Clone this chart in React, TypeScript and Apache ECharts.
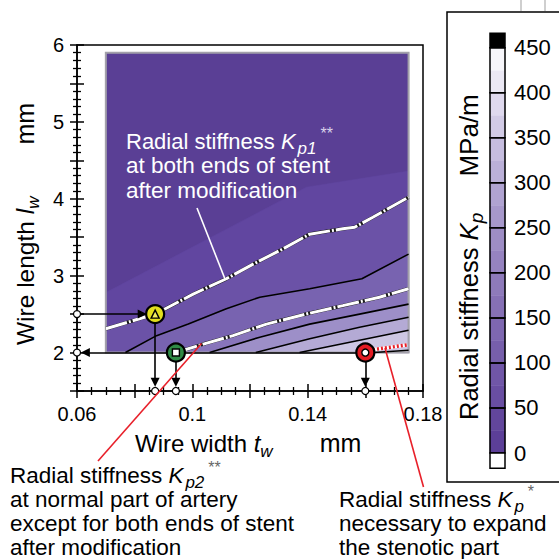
import React, { useEffect, useRef } from "react";
import * as echarts from "echarts";

const FONT = '"Liberation Sans", Arial, Helvetica, sans-serif';

// ---------- axes ----------
const xMin = 0.06;
const xMax = 0.18;
const xStep = 0.02;
const yMin = 1.5;
const yMax = 6;
const yStep = 0.5;
const xLabelValues = [0.06, 0.1, 0.14, 0.18];
const yLabelValues = [2, 3, 4, 5, 6];
const colorbarTicks = [0, 50, 100, 150, 200, 250, 300, 350, 400, 450];

// ---------- contour field (wire width tw [mm], wire length lw [mm]) ----------
const fieldX = [0.07, 0.175];
const fieldY = [2, 5.9];

// unlabeled shading boundary in the upper region
const boundaryUpper: number[][] = [[0.07, 2.78], [0.1395, 4.15], [0.175, 4.36]];
// Kp1** (white dash-dot)
const kp1Line: number[][] = [
  [0.07, 2.31], [0.0871, 2.5], [0.1003, 2.76], [0.1118, 2.96], [0.1211, 3.15],
  [0.1315, 3.35], [0.1407, 3.54], [0.1522, 3.61], [0.1563, 3.63], [0.1626, 3.76], [0.175, 4.02],
];
// black contour lines
const contourA: number[][] = [
  [0.0768, 2], [0.0876, 2.22], [0.0986, 2.37], [0.1118, 2.57], [0.1234, 2.72],
  [0.1407, 2.83], [0.1588, 2.96], [0.175, 3.28],
];
// Kp2** (white dash-dot)
const kp2Line: number[][] = [
  [0.0943, 2], [0.1038, 2.11], [0.1141, 2.22], [0.1257, 2.37], [0.1405, 2.51],
  [0.1522, 2.61], [0.1649, 2.72], [0.175, 2.83],
];
const contourB: number[][] = [[0.106, 2], [0.1234, 2.2], [0.1407, 2.37], [0.158, 2.5], [0.175, 2.63]];
const contourC: number[][] = [[0.122, 2], [0.1407, 2.18], [0.158, 2.33], [0.175, 2.46]];
const contourD: number[][] = [[0.1372, 2], [0.158, 2.16], [0.175, 2.29]];
const contourE: number[][] = [[0.163, 2], [0.175, 2.03]];
// Kp* (red dotted)
const kpStarLine: number[][] = [[0.1613, 2.03], [0.1745, 2.1]];

// shading: background + area under each boundary (increasing stiffness)
const fillBoundaries: (number[][] | null)[] = [null, boundaryUpper, kp1Line, contourA, kp2Line, contourB, contourC, contourD, contourE];
const fillColors = ["#5a3f95", "#6146a0", "#6b52a7", "#7863b0", "#8875bb", "#9d8fc8", "#b4aad5", "#cdc6e3", "#e4e0ef"];

// ---------- colorbar ----------
const bandEdges = [0, 25, 50, 75, 100, 125, 150, 175, 200, 225, 250, 275, 300, 325, 350, 375, 400, 425, 450];
const bandColors = [
  "#5c3f98", "#62469c", "#694ea2", "#7056a7", "#775fab", "#7e67b0", "#8670b5", "#8e7aba",
  "#9683c0", "#9e8dc5", "#a798cb", "#b0a3d1", "#bbb0d8", "#c6bddf", "#d2cbe6", "#dfd9ee",
  "#ebe8f4", "#f7f6fa",
];

// ---------- design points ----------
const pointKp1 = [0.0871, 2.5];
const pointKp2 = [0.0943, 2.0];
const pointKpStar = [0.16, 2.0];

type Seg = { t: string; s: number; i?: boolean; dy?: number; gap?: number; c?: string };

// One text element per line; sub/superscripts are rich-text tokens shifted by padding.
function run(segs: Seg[], x: number, baseline: number, color: string) {
  const S = segs[0].s;
  const rich: any = {};
  let text = "";
  segs.forEach((sg, k) => {
    const shift = (sg.dy || 0) + 0.35 * (S - sg.s);
    const pt = shift > 0 ? 2 * shift : 0;
    const pb = shift < 0 ? -2 * shift : 0;
    rich["s" + k] = {
      fontSize: sg.s,
      fontFamily: FONT,
      fontStyle: sg.i ? "italic" : "normal",
      fill: sg.c || color,
      color: sg.c || color,
      lineHeight: sg.s,
      padding: [pt, 0, pb, sg.gap || 0],
      verticalAlign: "middle",
    };
    text += `{s${k}|${sg.t}}`;
  });
  return {
    type: "text",
    x,
    y: baseline - 0.35 * S,
    z: 100,
    silent: true,
    style: {
      text,
      rich,
      fontSize: S,
      fontFamily: FONT,
      fill: color,
      align: "left",
      verticalAlign: "middle",
    },
  };
}

function vrun(segs: Seg[], baselineX: number, startY: number, color: string) {
  return {
    type: "group",
    x: baselineX,
    y: startY,
    rotation: Math.PI / 2,
    z: 100,
    children: [run(segs, 0, 0, color)],
  };
}

export default function App() {
  const ref = useRef<HTMLDivElement>(null);
  useEffect(() => {
    const chart = echarts.init(ref.current!, null, { renderer: "svg" });

    const tickStyle = { color: "#000", width: 1.5 };
    const xFormatter = (v: number) => {
      const hit = xLabelValues.find((l) => Math.abs(l - v) < 1e-6);
      return hit !== undefined ? String(hit) : "";
    };
    const yFormatter = (v: number) => {
      const hit = yLabelValues.find((l) => Math.abs(l - v) < 1e-6);
      return hit !== undefined ? String(hit) : "";
    };

    const makeX = (inside: boolean) => ({
      gridIndex: 0,
      type: "value",
      min: xMin,
      max: xMax,
      interval: xStep,
      position: "bottom",
      axisLine: { show: inside, onZero: false, lineStyle: tickStyle },
      axisTick: { show: true, inside, length: 7, lineStyle: tickStyle },
      minorTick: { show: true, splitNumber: 4, length: 4, lineStyle: { color: "#000", width: 1.3 } },
      axisLabel: { show: inside, formatter: xFormatter, fontSize: 20, color: "#000", fontFamily: FONT, margin: 13 },
      splitLine: { show: false },
      minorSplitLine: { show: false },
    });
    const makeY = (inside: boolean) => ({
      gridIndex: 0,
      type: "value",
      min: yMin,
      max: yMax,
      interval: yStep,
      position: "left",
      axisLine: { show: inside, onZero: false, lineStyle: tickStyle },
      axisTick: { show: true, inside, length: 7, lineStyle: tickStyle },
      minorTick: { show: true, splitNumber: 5, length: 4, lineStyle: { color: "#000", width: 1.3 } },
      axisLabel: { show: inside, formatter: yFormatter, fontSize: 20, color: "#000", fontFamily: FONT, margin: 13 },
      splitLine: { show: false },
      minorSplitLine: { show: false },
    });

    const contourLine = (data: number[][], color: string, width: number, type: any = "solid", z = 3) => ({
      type: "line",
      xAxisIndex: 0,
      yAxisIndex: 0,
      data,
      showSymbol: false,
      symbol: "none",
      z,
      silent: true,
      lineStyle: { color, width, type },
    });

    const arrow = (from: number[], to: number[]) => ({ coords: [from, to] });

    const option: any = {
      animation: false,
      backgroundColor: "#fff",
      grid: [
        { left: 77, top: 45, width: 346, height: 346, show: true, borderColor: "#000", borderWidth: 1.5, backgroundColor: "transparent" },
        { left: 490, top: 47.7, width: 15, height: 405.3 },
      ],
      xAxis: [
        makeX(true),
        makeX(false),
        { gridIndex: 1, type: "value", min: 0, max: 1, show: false },
      ],
      yAxis: [
        makeY(true),
        makeY(false),
        {
          gridIndex: 1,
          type: "value",
          min: colorbarTicks[0],
          max: colorbarTicks[colorbarTicks.length - 1],
          interval: 50,
          position: "right",
          axisLine: { show: false },
          axisTick: { show: false },
          splitLine: { show: false },
          axisLabel: { fontSize: 22, color: "#000", fontFamily: FONT, margin: 9 },
        },
      ],
      series: [
        // contour shading
        {
          type: "custom",
          xAxisIndex: 0,
          yAxisIndex: 0,
          z: 1,
          silent: true,
          data: fillBoundaries.map(() => [fieldX[0], fieldY[0]]),
          renderItem: (params: any, api: any) => {
            const line = fillBoundaries[params.dataIndex];
            let pts: number[][];
            if (!line) {
              pts = [[fieldX[0], fieldY[0]], [fieldX[1], fieldY[0]], [fieldX[1], fieldY[1]], [fieldX[0], fieldY[1]]];
            } else {
              pts = [...line, [fieldX[1], fieldY[0]], [line[0][0], fieldY[0]]];
            }
            return {
              type: "polygon",
              shape: { points: pts.map((p) => api.coord(p)) },
              style: { fill: fillColors[params.dataIndex], stroke: fillColors[params.dataIndex], lineWidth: 0.5 },
            };
          },
        },
        // field border
        {
          type: "custom",
          xAxisIndex: 0,
          yAxisIndex: 0,
          z: 2,
          silent: true,
          data: [[fieldX[0], fieldY[0]]],
          renderItem: (_p: any, api: any) => {
            const a = api.coord([fieldX[0], fieldY[1]]);
            const b = api.coord([fieldX[1], fieldY[0]]);
            return {
              type: "rect",
              shape: { x: a[0], y: a[1], width: b[0] - a[0], height: b[1] - a[1] },
              style: { fill: "none", stroke: "#a3a1aa", lineWidth: 2 },
            };
          },
        },
        contourLine(contourA, "#000", 1.6),
        contourLine(contourB, "#000", 1.6),
        contourLine(contourC, "#000", 1.6),
        contourLine(contourD, "#000", 1.6),
        contourLine(contourE, "#000", 1.6),
        contourLine(kp1Line, "#1a1a1a", 3.6, "solid", 4),
        contourLine(kp1Line, "#fff", 3, [22, 2, 2, 2], 5),
        contourLine(kp2Line, "#1a1a1a", 3.6, "solid", 4),
        contourLine(kp2Line, "#fff", 3, [22, 2, 2, 2], 5),
        contourLine(kpStarLine, "#fff", 3.5, "solid", 4),
        contourLine(kpStarLine, "#e8202a", 3.5, [2, 2], 5),
        // arrows
        {
          type: "lines",
          coordinateSystem: "cartesian2d",
          xAxisIndex: 0,
          yAxisIndex: 0,
          z: 6,
          silent: true,
          symbol: ["none", "triangle"],
          symbolSize: 9,
          lineStyle: { color: "#000", width: 1.6, opacity: 1 },
          data: [
            arrow(pointKpStar, [0.0629, 2]),
            arrow([0.06, 2.5], [0.0826, 2.5]),
            arrow(pointKp1, [pointKp1[0], 1.615]),
            arrow(pointKp2, [pointKp2[0], 1.615]),
            arrow(pointKpStar, [pointKpStar[0], 1.615]),
          ],
        },
        // small white circles on the axes
        {
          type: "scatter",
          xAxisIndex: 0,
          yAxisIndex: 0,
          z: 7,
          clip: false,
          silent: true,
          symbol: "circle",
          symbolSize: 7,
          itemStyle: { color: "#fff", borderColor: "#000", borderWidth: 1.2, opacity: 1 },
          data: [
            [xMin, pointKp1[1]],
            [xMin, pointKp2[1]],
            [pointKp1[0], yMin],
            [pointKp2[0], yMin],
            [pointKpStar[0], yMin],
          ],
        },
        // markers
        {
          type: "scatter", xAxisIndex: 0, yAxisIndex: 0, z: 8, silent: true, clip: false,
          symbol: "circle", symbolSize: 18,
          itemStyle: { color: "#e3df1d", borderColor: "#000", borderWidth: 2.2, opacity: 1 },
          data: [pointKp1],
        },
        {
          type: "scatter", xAxisIndex: 0, yAxisIndex: 0, z: 9, silent: true, clip: false,
          symbol: "triangle", symbolSize: 8,
          itemStyle: { color: "#f2ef60", borderColor: "#000", borderWidth: 1.4, opacity: 1 },
          data: [pointKp1],
        },
        {
          type: "scatter", xAxisIndex: 0, yAxisIndex: 0, z: 8, silent: true, clip: false,
          symbol: "circle", symbolSize: 18,
          itemStyle: { color: "#2f8a45", borderColor: "#000", borderWidth: 2.2, opacity: 1 },
          data: [pointKp2],
        },
        {
          type: "scatter", xAxisIndex: 0, yAxisIndex: 0, z: 9, silent: true, clip: false,
          symbol: "rect", symbolSize: 7,
          itemStyle: { color: "#fff", borderColor: "#000", borderWidth: 1.4, opacity: 1 },
          data: [pointKp2],
        },
        {
          type: "scatter", xAxisIndex: 0, yAxisIndex: 0, z: 8, silent: true, clip: false,
          symbol: "circle", symbolSize: 18,
          itemStyle: { color: "#e31b23", borderColor: "#000", borderWidth: 2.2, opacity: 1 },
          data: [pointKpStar],
        },
        {
          type: "scatter", xAxisIndex: 0, yAxisIndex: 0, z: 9, silent: true, clip: false,
          symbol: "circle", symbolSize: 7,
          itemStyle: { color: "#fff", borderColor: "#000", borderWidth: 1.4, opacity: 1 },
          data: [pointKpStar],
        },
        // colorbar bands
        {
          type: "custom",
          xAxisIndex: 2,
          yAxisIndex: 2,
          z: 2,
          clip: false,
          silent: true,
          data: bandColors.map((_, i) => [bandEdges[i], bandEdges[i + 1]]),
          renderItem: (params: any, api: any) => {
            const a = api.coord([0, api.value(1)]);
            const b = api.coord([1, api.value(0)]);
            return {
              type: "rect",
              shape: { x: a[0], y: a[1], width: b[0] - a[0], height: b[1] - a[1] },
              style: { fill: bandColors[params.dataIndex], stroke: bandColors[params.dataIndex], lineWidth: 0.5 },
            };
          },
        },
        // colorbar outlines (every 50) + under/over boxes
        {
          type: "custom",
          xAxisIndex: 2,
          yAxisIndex: 2,
          z: 3,
          clip: false,
          silent: true,
          data: [
            ...colorbarTicks.slice(0, -1).map((v, i) => [v, colorbarTicks[i + 1], 0]),
            [colorbarTicks[0] - 17, colorbarTicks[0], 1],
            [colorbarTicks[colorbarTicks.length - 1], colorbarTicks[colorbarTicks.length - 1] + 16, 2],
          ],
          renderItem: (_params: any, api: any) => {
            const a = api.coord([0, api.value(1)]);
            const b = api.coord([1, api.value(0)]);
            const kind = api.value(2);
            return {
              type: "rect",
              shape: { x: a[0], y: a[1], width: b[0] - a[0], height: b[1] - a[1] },
              style: { fill: kind === 1 ? "#fff" : kind === 2 ? "#000" : "none", stroke: "#000", lineWidth: 1.5 },
            };
          },
        },
      ],
      graphic: [
        // colorbar frame and page bits
        { type: "rect", z: 100, silent: true, shape: { x: 447, y: 12, width: 130, height: 470 }, style: { fill: "none", stroke: "#000", lineWidth: 1.5 } },
        { type: "line", z: 100, silent: true, shape: { x1: 521, y1: 0, x2: 521, y2: 11 }, style: { stroke: "#cfcfcf", lineWidth: 2 } },
        { type: "line", z: 100, silent: true, shape: { x1: 545, y1: 0, x2: 545, y2: 11 }, style: { stroke: "#cfcfcf", lineWidth: 2 } },
        // leader lines
        { type: "line", z: 100, silent: true, shape: { x1: 197, y1: 208, x2: 225, y2: 279 }, style: { stroke: "#fff", lineWidth: 1.6 } },
        { type: "line", z: 100, silent: true, shape: { x1: 201.5, y1: 343.5, x2: 98, y2: 461 }, style: { stroke: "#e8202a", lineWidth: 1.6 } },
        { type: "line", z: 100, silent: true, shape: { x1: 385, y1: 348, x2: 423.5, y2: 487 }, style: { stroke: "#e8202a", lineWidth: 1.6 } },
        // annotation inside plot
        run([
          { t: "Radial stiffness ", s: 22 },
          { t: "K", s: 22, i: true },
          { t: "p1", s: 17, i: true, dy: 5, gap: 2 },
          { t: "**", s: 16, dy: -10, gap: 4, c: "#d9d2ea" },
        ], 126, 149, "#fff"),
        run([{ t: "at both ends of stent", s: 22.5 }], 126, 173.5, "#fff"),
        run([{ t: "after modification", s: 22.5 }], 126, 198, "#fff"),
        // bottom-left annotation
        run([
          { t: "Radial stiffness ", s: 22.5 },
          { t: "K", s: 22.5, i: true },
          { t: "p2", s: 17, i: true, dy: 5, gap: 2 },
          { t: "**", s: 16, dy: -10, gap: 4, c: "#666" },
        ], 10, 483, "#000"),
        run([{ t: "at normal part of artery", s: 22.5 }], 10, 507.3, "#000"),
        run([{ t: "except for both ends of stent", s: 22.5 }], 10, 531.5, "#000"),
        run([{ t: "after modification", s: 22.5 }], 10, 555.5, "#000"),
        // bottom-right annotation
        run([
          { t: "Radial stiffness ", s: 22.5 },
          { t: "K", s: 22.5, i: true },
          { t: "p", s: 17, i: true, dy: 5, gap: 2 },
          { t: "*", s: 16, dy: -10, gap: 4, c: "#666" },
        ], 339, 507.3, "#000"),
        run([{ t: "necessary to expand", s: 22.5 }], 339, 531.5, "#000"),
        run([{ t: "the stenotic part", s: 22.5 }], 339, 555.5, "#000"),
        // axis titles
        run([
          { t: "Wire width ", s: 24 },
          { t: "t", s: 24, i: true },
          { t: "w", s: 17, i: true, dy: 5 },
          { t: "mm", s: 25, gap: 47 },
        ], 135, 452, "#000"),
        vrun([
          { t: "Wire length ", s: 24.5 },
          { t: "l", s: 24.5, i: true },
          { t: "w", s: 17, i: true, dy: 5 },
          { t: "mm", s: 25, gap: 52 },
        ], 34, 345, "#000"),
        vrun([
          { t: "Radial stiffness ", s: 25.5 },
          { t: "K", s: 26, i: true },
          { t: "p", s: 19, i: true, dy: 5 },
          { t: "MPa/m", s: 26, gap: 36 },
        ], 478, 420, "#000"),
      ],
    };

    chart.setOption(option);
    return () => chart.dispose();
  }, []);

  return (
    <div
      ref={ref}
      style={{ position: "absolute", left: 0, top: 0, width: 559, height: 559, background: "#fff" }}
    />
  );
}
